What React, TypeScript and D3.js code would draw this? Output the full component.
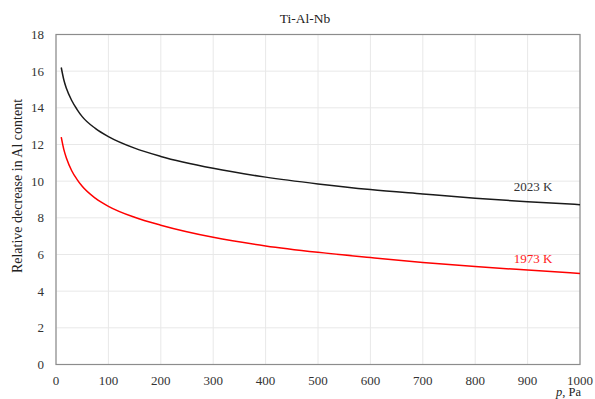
import React from 'react';
import * as d3 from 'd3';

// pressure, Pa
const pressure = [10, 15, 20, 30, 40, 50, 75, 100, 150, 200, 300, 400, 500, 600, 700, 800, 900, 1000];
// relative decrease in Al content at 2023 K
const series2023 = [16.2, 15.52, 15.05, 14.4, 13.92, 13.52, 12.88, 12.43, 11.8, 11.35, 10.7, 10.22, 9.85, 9.54, 9.3, 9.07, 8.88, 8.72];
// relative decrease in Al content at 1973 K
const series1973 = [12.4, 11.72, 11.25, 10.57, 10.1, 9.72, 9.07, 8.63, 8.03, 7.6, 6.94, 6.47, 6.12, 5.83, 5.56, 5.34, 5.15, 4.97];

const xTicks = [0, 100, 200, 300, 400, 500, 600, 700, 800, 900, 1000];
const yTicks = [0, 2, 4, 6, 8, 10, 12, 14, 16, 18];

const W = 595;
const H = 399;
const font = '"Liberation Serif", "Times New Roman", serif';

export default function App() {
  const x = d3.scaleLinear().domain([0, 1000]).range([56, 580]);
  const y = d3.scaleLinear().domain([0, 18]).range([364.5, 34.5]);

  const line = d3
    .line<number>()
    .x((_, i) => x(pressure[i]))
    .y((d) => y(d))
    .curve(d3.curveMonotoneX);

  const last = pressure.length - 1;

  return (
    <svg
      width={W}
      height={H}
      style={{ position: 'absolute', left: 0, top: 0, background: '#fff' }}
      fontFamily={font}
    >
      {/* grid */}
      {xTicks.map((t) => (
        <line key={'gx' + t} x1={x(t)} x2={x(t)} y1={y(0)} y2={y(18)} stroke="#e8e8e8" strokeWidth={1} />
      ))}
      {yTicks.map((t) => (
        <line key={'gy' + t} x1={x(0)} x2={x(1000)} y1={y(t)} y2={y(t)} stroke="#e8e8e8" strokeWidth={1} />
      ))}

      {/* plot border */}
      <rect
        x={x(0)}
        y={y(18)}
        width={x(1000) - x(0)}
        height={y(0) - y(18)}
        fill="none"
        stroke="#8c8c8c"
        strokeWidth={1.2}
      />

      {/* series */}
      <path d={line(series2023) ?? ''} fill="none" stroke="#1a1a1a" strokeWidth={1.5} />
      <path d={line(series1973) ?? ''} fill="none" stroke="#ff0000" strokeWidth={1.5} />

      {/* series labels */}
      <text x={x(pressure[last]) - 47} y={y(series2023[last]) - 13.5} textAnchor="middle" fontSize={13} fill="#333">
        2023 K
      </text>
      <text x={x(pressure[last]) - 47} y={y(series1973[last]) - 10} textAnchor="middle" fontSize={13} fill="#ff2020">
        1973 K
      </text>

      {/* tick labels */}
      {xTicks.map((t) => (
        <text key={'tx' + t} x={x(t)} y={385} textAnchor="middle" fontSize={13} fill="#333">
          {t}
        </text>
      ))}
      {yTicks.map((t) => (
        <text key={'ty' + t} x={44} y={y(t) + 4.5} textAnchor="end" fontSize={13} fill="#333">
          {t}
        </text>
      ))}

      {/* titles */}
      <text x={305} y={23} textAnchor="middle" fontSize={13.5} fill="#222">
        Ti-Al-Nb
      </text>
      <text
        transform={`translate(22, 186) rotate(-90)`}
        textAnchor="middle"
        fontSize={14}
        fill="#222"
      >
        Relative decrease in Al content
      </text>
      <text x={581} y={395.5} textAnchor="end" fontSize={12.5} fill="#222">
        <tspan fontStyle="italic">p</tspan>, Pa
      </text>
    </svg>
  );
}
